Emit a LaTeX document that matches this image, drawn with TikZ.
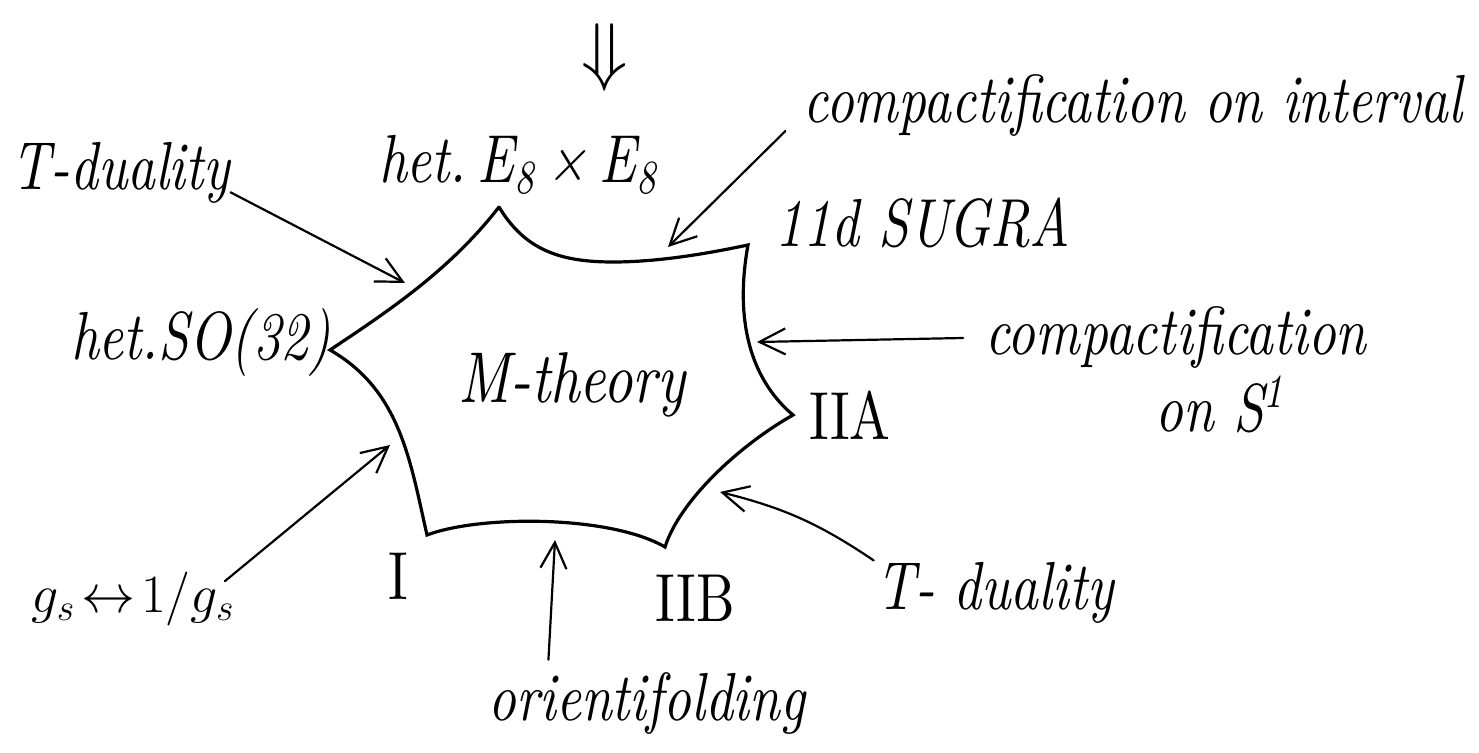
\documentclass[tikz,border=0pt]{standalone}
\usepackage{fix-cm}
\usepackage{fontspec}
\usepackage{tikz}
\usetikzlibrary{arrows.meta}
\newfontfamily\handfont{lmroman10-regular.otf}[ItalicFont=lmroman10-italic.otf,FakeStretch=0.8]

\begin{document}
\begin{tikzpicture}[x=0.5pt,y=-0.5pt,line cap=round,
    hand/.style={font=\handfont\itshape\fontsize{34}{40}\selectfont,inner sep=0pt},
    roman/.style={font=\handfont\fontsize{34}{40}\selectfont,inner sep=0pt},
    arr/.style={line width=1.1pt,-{Straight Barb[length=13pt,width=13pt]}},
    starline/.style={line width=1.6pt}]
    \path[fill=white] (0,0) rectangle (1479,753);

    \coordinate (vT) at (499,207);
    \coordinate (vUR) at (748,245);
    \coordinate (vR) at (793,415);
    \coordinate (vLR) at (665,547);
    \coordinate (vLL) at (427,535);
    \coordinate (vL) at (330,350);
    \draw[starline] (vT) .. controls (525,250) and (560,262) .. (613,262)
        .. controls (660,262) and (710,253) .. (vUR)
        .. controls (738,300) and (740,370) .. (vR)
        .. controls (740,445) and (680,500) .. (vLR)
        .. controls (610,515) and (480,515) .. (vLL)
        .. controls (410,460) and (400,390) .. (vL)
        .. controls (390,310) and (450,270) .. (vT);

    \node[hand,anchor=base,font=\handfont\itshape\fontsize{36}{40}\selectfont] (mth) at (572,403) {M-theory};
    \node[hand,anchor=base] (het8) at (518,183) {het.\,E\textsubscript{8}\,×\,E\textsubscript{8}};
    \node[hand,anchor=base] (sugra) at (923,247) {11d SUGRA};
    \node[hand,anchor=base] (so32) at (201,360) {het.SO(32)};
    \node[roman,anchor=base] (t2a) at (850,440) {IIA};
    \node[roman,anchor=base] (t1) at (398,600) {I};
    \node[roman,anchor=base] (t2b) at (695,622) {IIB};
    \node[inner sep=0pt,font=\fontsize{38}{38}\selectfont] (down) at (605,58) {$\Downarrow$};

    \node[hand,anchor=base] (tdl) at (121,190) {T-duality};
    \node[hand,anchor=base] (cint) at (1133,123) {compactification on interval};
    \node[hand,anchor=base] (cs1) at (1176,355) {compactification};
    \node[hand,anchor=base] (cs1b) at (1220,432) {on S\textsuperscript{1}};
    \node[hand,anchor=base] (tdr) at (995,610) {T- duality};
    \node[hand,anchor=base] (ori) at (647,720) {orientifolding};
    \node[hand,anchor=base,font=\fontsize{27}{30}\selectfont] (gs) at (133,612) {$g_s\!\leftrightarrow\!1/g_s$};

    \coordinate (tTl) at (405,283);
    \coordinate (tInt) at (668,247);
    \coordinate (tS1) at (757,342);
    \coordinate (tTr) at (720,492);
    \coordinate (tOri) at (555,540);
    \coordinate (tGs) at (390,445);
    \draw[arr] ([yshift=6pt]tdl.south east) -- (tTl);
    \draw[arr] ([xshift=-9pt,yshift=-4pt]cint.base west) -- (tInt);
    \draw[arr] ([xshift=-11pt]cs1.west) -- (tS1);
    \draw[arr] ([xshift=-1pt,yshift=1pt]tdr.north west) to[bend right=10] (tTr);
    \draw[arr] ([xshift=30pt,yshift=6pt]ori.north west) -- (tOri);
    \draw[arr] ([xshift=-5pt,yshift=-5pt]gs.north east) -- (tGs);
\end{tikzpicture}
\end{document}
